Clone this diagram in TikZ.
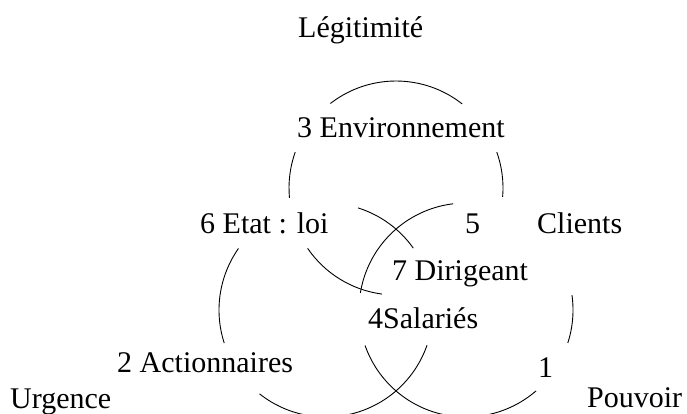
\documentclass[tikz,border=0pt]{standalone}
\usepackage{fontspec}
\setmainfont{Liberation Serif}
\tikzset{
  ring/.style={line width=0.9pt, black},
  lbl/.style={anchor=base west, inner sep=0pt, font=\fontsize{30}{36}\selectfont}
}
\newcommand\ringarc[3]{\draw[ring] ([shift={(#2:107pt)}]#1) arc[start angle=#2, end angle=#3, radius=107pt];}
\begin{document}
\begin{tikzpicture}[x=1pt,y=1pt]
\useasboundingbox (0,0) rectangle (687,-413);
\clip (0,0) rectangle (687,-413);
\fill[white] (0,0) rectangle (687,-413);
% circle centres
\coordinate (T) at (396,-188);
\coordinate (L) at (326,-310);
\coordinate (R) at (466,-310);
% top circle (Legitimite)
\ringarc{T}{51.8}{127.8}
\ringarc{T}{160.4}{185.3}
\ringarc{T}{-4.8}{19.6}
\ringarc{T}{214.3}{262.4}
% left circle (Urgence)
\ringarc{L}{35.3}{72.6}
\ringarc{L}{144.9}{198}
\ringarc{L}{231.6}{340.8}
% right circle (Pouvoir)
\ringarc{R}{96.9}{170.8}
\ringarc{R}{-17.9}{8}
\ringarc{R}{199.4}{310.9}
% labels
\node[lbl] (leg) at (298,-37) {Légitimité};
\node[lbl] (env) at (297,-137) {3 Environnement};
\node[lbl] (etat) at (200,-233) {6 Etat : loi};
\node[lbl] (n5) at (465,-233) {5};
\node[lbl] (cli) at (537,-233) {Clients};
\node[lbl] (dir) at (392,-280) {7 Dirigeant};
\node[lbl] (sal) at (368,-328) {4Salariés};
\node[lbl] (act) at (117,-372) {2 Actionnaires};
\node[lbl] (n1) at (538,-377) {1};
\node[lbl] (urg) at (10,-408) {Urgence};
\node[lbl] (pou) at (587,-407) {Pouvoir};
\end{tikzpicture}
\end{document}
